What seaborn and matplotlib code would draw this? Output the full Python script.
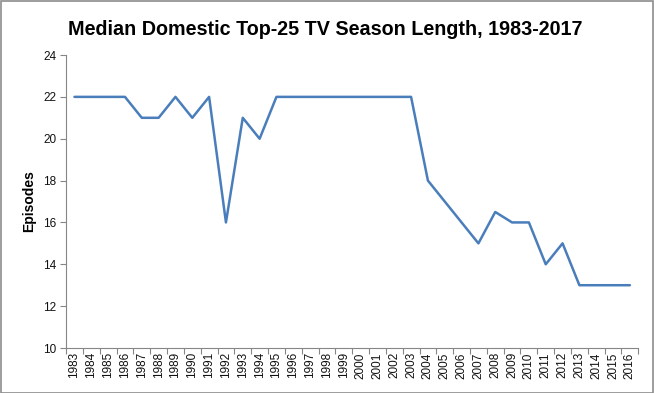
import matplotlib
matplotlib.use("Agg")
import matplotlib.pyplot as plt
import matplotlib.patches as patches
import seaborn as sns
import numpy as np
import pandas as pd

years = list(range(1983, 2017))
episodes = [22, 22, 22, 22, 21, 21, 22, 21, 22, 16,
            21, 20, 22, 22, 22, 22, 22, 22, 22, 22,
            22, 18, 17, 16, 15, 16.5, 16, 16, 14, 15,
            13, 13, 13, 13]

df = pd.DataFrame({"year": years, "episodes": episodes})

sns.set_style("white")
plt.rcParams["font.family"] = ["Liberation Sans", "DejaVu Sans"]

fig = plt.figure(figsize=(6.54, 3.93), dpi=100)
ax = fig.add_axes([0.101, 0.1145, 0.875, 0.7455])

sns.lineplot(data=df, x="year", y="episodes", ax=ax, color="#4A7EBB", linewidth=1.8)

ax.set_xlim(1982.5, 2016.5)
ax.set_ylim(10, 24)
ax.set_yticks(range(10, 25, 2))
ax.set_xticks(years)
ax.set_xticklabels([str(y) for y in years], rotation=90, fontsize=8.5, color="#111111")
ax.set_xticks(np.arange(1982.5, 2017, 1), minor=True)
ax.tick_params(axis="x", which="major", bottom=True, length=0, pad=3)
ax.tick_params(axis="x", which="minor", bottom=True, length=4, color="#868686", width=0.8, direction="out")
ax.tick_params(axis="y", left=True, length=4, color="#868686", width=0.8, direction="out",
               labelsize=8.5, labelcolor="#111111", pad=3)

for s in ["top", "right"]:
    ax.spines[s].set_visible(False)
for s in ["left", "bottom"]:
    ax.spines[s].set_color("#868686")
    ax.spines[s].set_linewidth(0.8)

ax.set_xlabel("")
ax.set_ylabel("Episodes", fontsize=10, fontweight="bold", labelpad=5, color="black")

fig.text(0.497, 0.926, "Median Domestic Top-25 TV Season Length, 1983-2017",
         ha="center", va="center", fontsize=14.2, fontweight="bold", color="black")

fig.patches.append(patches.Rectangle((0.001, 0.001), 0.997, 0.996, transform=fig.transFigure,
                                     fill=False, edgecolor="#8c8c8c", linewidth=1.2))

fig.savefig("out.png", dpi=100)
